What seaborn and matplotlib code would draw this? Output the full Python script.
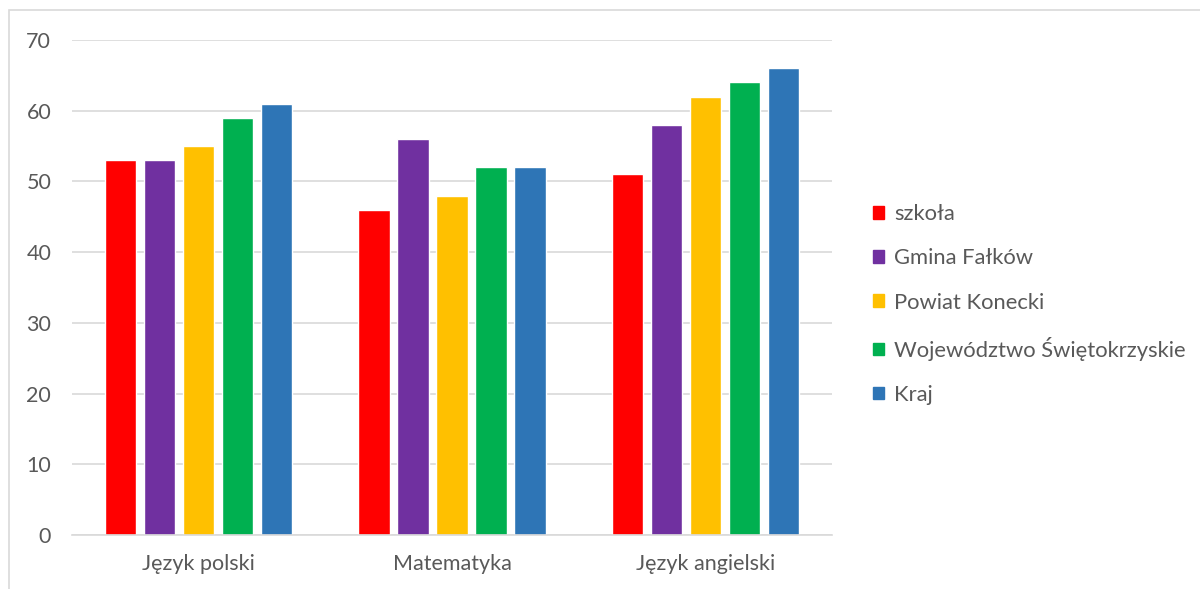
import pandas as pd
import matplotlib.pyplot as plt
import matplotlib.patches as mpatches
import seaborn as sns

# ─── DATA ─────────────────────────────────────────────
subjects = ['Język polski', 'Matematyka', 'Język angielski']
series = ['szkoła', 'Gmina Fałków', 'Powiat Konecki',
          'Województwo Świętokrzyskie', 'Kraj']
szkola = [53, 46, 51]
gmina = [53, 56, 58]
powiat = [55, 48, 62]
wojewodztwo = [59, 52, 64]
kraj = [61, 52, 66]
y_ticks = [0, 10, 20, 30, 40, 50, 60, 70]

colors = ['#FF0000', '#7030A0', '#FFC000', '#00B050', '#2E75B6']

# ─── STYLE ────────────────────────────────────────────
sns.set_style('white')
plt.rcParams['font.family'] = ['Lato', 'DejaVu Sans']
TEXT = '#595959'
GRID = '#D9D9D9'
FS = 15.5

rows = []
for name, vals in zip(series, [szkola, gmina, powiat, wojewodztwo, kraj]):
    for subj, v in zip(subjects, vals):
        rows.append({'subject': subj, 'series': name, 'value': v})
df = pd.DataFrame(rows)

fig = plt.figure(figsize=(12, 5.89), dpi=100)
ax = fig.add_axes([0.06, 0.0917, 0.6333, 0.8404])

sns.barplot(data=df, x='subject', y='value', hue='series',
            order=subjects, hue_order=series, palette=colors,
            width=0.77, gap=0.2, saturation=1, ax=ax, legend=False)

ax.set_ylim(0, 70)
ax.set_xlim(-0.5, 2.5)
ax.set_yticks(y_ticks)
ax.yaxis.grid(True, color=GRID, linewidth=1.2)
ax.set_axisbelow(True)
ax.set_xlabel('')
ax.set_ylabel('')
for s in ['top', 'right', 'left']:
    ax.spines[s].set_visible(False)
ax.spines['bottom'].set_color(GRID)
ax.spines['bottom'].set_linewidth(1.2)
ax.tick_params(axis='both', length=0, colors=TEXT, labelsize=FS)
ax.tick_params(axis='y', pad=15)
ax.tick_params(axis='x', pad=14)

# legend at the right side
handles = [mpatches.Patch(color=c, label=n) for c, n in zip(colors, series)]
leg = fig.legend(handles=handles, loc='center left',
                 bbox_to_anchor=(0.7205, 0.483), frameon=False,
                 handlelength=0.5, handleheight=0.5, handletextpad=0.45,
                 labelspacing=1.1, fontsize=15.8, borderaxespad=0)
for t in leg.get_texts():
    t.set_color(TEXT)

# outer chart border (left and top visible)
fig.patches.append(mpatches.Rectangle((9 / 1200, -0.1), 1.2, 1 - 10 / 589 + 0.1,
                                      transform=fig.transFigure, fill=False,
                                      edgecolor=GRID, linewidth=1.2))

fig.savefig('out.png', dpi=100)
